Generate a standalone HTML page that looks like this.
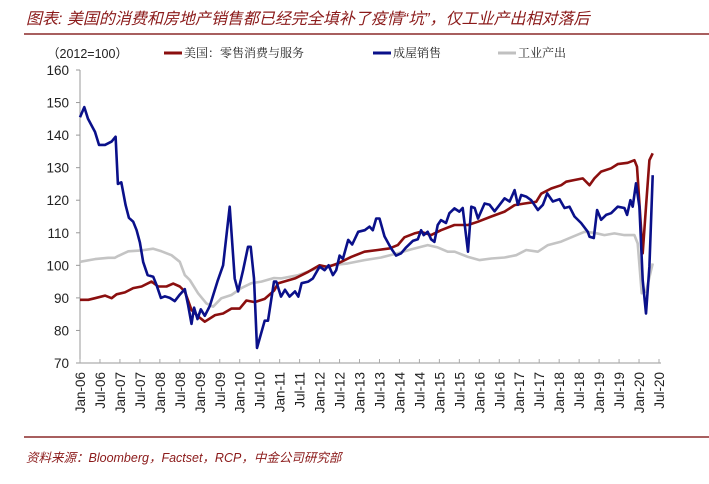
<!DOCTYPE html>
<html><head><meta charset="utf-8"><style>
body{margin:0;background:#fff;width:709px;height:479px;overflow:hidden;font-family:"Liberation Sans","Noto Sans CJK SC",sans-serif}
</style></head><body>
<svg width="709" height="479" xmlns="http://www.w3.org/2000/svg">
<text x="26" y="24" font-size="16" font-style="italic" fill="#8b1a1a" font-family="Liberation Sans, Noto Sans CJK SC, sans-serif">图表: 美国的消费和房地产销售都已经完全填补了疫情“坑”，仅工业产出相对落后</text>
<line x1="24" y1="34" x2="709" y2="34" stroke="#8b2a2a" stroke-width="1.5"/>
<text x="47" y="58" font-size="12.5" fill="#222">（2012=100）</text>
<g font-family="Noto Serif CJK SC, serif" font-size="12" fill="#222">
<line x1="164" y1="53" x2="182" y2="53" stroke="#8b0f0f" stroke-width="3"/>
<text x="184" y="57">美国：零售消费与服务</text>
<line x1="373" y1="53" x2="391" y2="53" stroke="#0a108a" stroke-width="3"/>
<text x="393" y="57">成屋销售</text>
<line x1="498" y1="53" x2="516" y2="53" stroke="#c0c0c0" stroke-width="3"/>
<text x="518" y="57">工业产出</text>
</g>
<g id="axes"></g>
<g id="series"></g>
<line x1="24" y1="437" x2="709" y2="437" stroke="#8b2a2a" stroke-width="1.5"/>
<text x="26" y="462" font-size="12.5" font-style="italic" fill="#8b1a1a">资料来源：Bloomberg，Factset，RCP，中金公司研究部</text>
</svg>
<script>
const yTicks=[70,80,90,100,110,120,130,140,150,160];
const xTickLabels=["Jan-06","Jul-06","Jan-07","Jul-07","Jan-08","Jul-08","Jan-09","Jul-09","Jan-10","Jul-10","Jan-11","Jul-11","Jan-12","Jul-12","Jan-13","Jul-13","Jan-14","Jul-14","Jan-15","Jul-15","Jan-16","Jul-16","Jan-17","Jul-17","Jan-18","Jul-18","Jan-19","Jul-19","Jan-20","Jul-20"];
const housingMonths=[0,1.3,2.4,4.5,5.7,7.5,9.5,10.7,11.4,12.4,13.7,14.7,16,17,18,19,20.3,22,23,24.3,25.5,27,28.5,30,31.5,32.5,33.5,34.3,35.3,36.3,37.5,39,41.3,43,45,46.5,47.5,49,50.5,51.3,52.3,53.2,55.5,56.5,58.3,59,60.4,61.6,63,64.6,65.6,66.6,68.6,70,72,73.5,74.7,76,77,78,79,80.6,81.8,83.6,85.6,87,88,89,90,91.5,93.5,95,96.5,98,100,101.5,102.5,103.3,104.5,105.5,106.5,107.5,108.5,110,111,112.5,114,115,116.6,117.6,118.6,119.6,121.6,123.1,124.6,126.1,127.6,129.1,130.6,131.6,132.6,134.1,135.6,137.6,139.1,140.4,142.1,144.1,145.6,147.1,148.6,150.6,152.6,153.1,154.4,155.4,156.6,158.1,159.6,161.6,163.6,164.4,165.4,166.1,167.1,168.1,169.1,170.1,171.1,172.1];
const housingValues=[145.5,148.6,145,141,137,137,138,139.5,125,125.5,118.5,114.6,113.4,110.8,107,101,97,96.5,94,90,90.5,90,89,91,92.7,87.8,82,87,83.5,86.5,84.5,87.5,95,100,118,96,92,98.5,105.7,105.7,96,74.6,83,83,95,95,90.4,92.5,90.4,92,90.4,94.5,95,96,99.6,98.5,100,97,98.5,103,102,107.8,106.4,110.3,110.8,111.9,110.8,114.4,114.4,108.9,105.2,103,103.7,105.5,107.5,108,110.8,109.3,110.3,108,107.2,112.4,113.9,113,116,117.5,116.5,117.6,104.2,118,117.6,114.4,119,118.6,116.6,118.6,120.6,119.6,123.1,118.6,121.6,121.1,120,117,118.6,122.1,119.6,120.3,117.6,118,115,113,110.3,108.8,108.4,117,114,115.5,116,118,117.6,115.5,120,118,125.2,118,95.5,85.2,99.6,127.7];
const retailMonths=[0,2.5,4.5,7.5,9.5,11,13.5,16,18.5,21.5,23.5,26,28,30,31.5,33.5,35.5,37.5,40.6,43,45.5,48,50,52.5,55.5,58.3,59.6,64.6,68.6,72,74.5,77.5,81.5,85.5,89.5,93,95.5,97.5,100.5,102.5,105.5,108.5,112.5,116.6,119.6,123.6,127.6,130.6,133.6,137.1,138.6,141.6,144.6,146.1,148.6,151.1,153.1,154.6,156.6,159.6,161.6,164.6,166.6,167.4,169.1,170.1,171.1,172.1];
const retailValues=[89.4,89.4,89.9,90.7,89.9,91.1,91.7,93,93.5,95,93.5,93.5,94.4,93.5,92,86.3,84.3,82.7,84.7,85.2,86.7,86.7,89.2,88.7,89.7,92.2,94.5,96,98,100,99.5,100.6,102.6,104.2,104.7,105.2,106.2,108.6,109.8,110.3,109.3,110.8,112.4,112.4,113.4,115,116.5,118.5,119,119.5,122,123.6,124.6,125.7,126.2,126.7,124.6,126.7,128.8,129.8,131.1,131.5,132.3,130.3,103.7,118,132.3,134.4];
const industrialMonths=[0,4.5,8.5,10.5,11.5,14.5,18.5,22,24.5,27.5,30,31.5,33,35.5,38,40,42.5,45.5,48.5,51.5,54.5,58.3,60.5,65.6,70.5,75.5,80.5,85.5,90.5,95.5,99.5,104.5,107.5,110.5,112.6,116.6,120.1,123.6,127.6,131.1,134.1,137.6,140.6,144.6,148.1,151.6,154.6,157.6,160.6,163.6,166.6,167.6,168.8,170.1,172.1];
const industrialValues=[101.1,101.9,102.3,102.3,102.9,104.3,104.6,105.1,104.3,103.1,101.1,97,95.5,91.4,88.3,87.3,89.9,90.9,93,94.5,95,96.1,96,97,98.8,100,100.6,101.6,102.4,103.7,104.9,106.2,105.5,104.2,104.2,102.6,101.6,102.1,102.4,103.1,104.7,104.2,106.2,107.3,108.8,110.3,110,109.3,109.8,109.3,109.3,106.7,91.4,91.9,100.6];

const NS="http://www.w3.org/2000/svg";
const X0=80,X1=659,Y0=363,Y1=70;
const xScale=m=>X0+m*(X1-X0)/174;
const yScale=v=>Y0-(v-70)*(Y0-Y1)/90;
const axes=document.getElementById('axes'),series=document.getElementById('series');
function mk(tag,attrs,parent){const e=document.createElementNS(NS,tag);for(const k in attrs)e.setAttribute(k,attrs[k]);parent.appendChild(e);return e;}
let ax=mk('line',{x1:X0,y1:Y1,x2:X0,y2:Y0,stroke:'#999','stroke-width':1},axes);


let bx=mk('line',{x1:X0,y1:Y0,x2:X1+2,y2:Y0,stroke:'#bbb','stroke-width':1.5},axes);


yTicks.forEach(v=>{
  const y=yScale(v);
  const t=mk('line',{x1:X0-4,y1:y,x2:X0,y2:y,stroke:'#999'},axes);
  
  
  const l=mk('text',{x:X0-11,y:y+5,'text-anchor':'end','font-size':13.5,fill:'#222'},axes);
  l.textContent=v;
  
  
});
xTickLabels.forEach((s,i)=>{
  const x=xScale(i*6);
  const t=mk('line',{x1:x,y1:Y0-4,x2:x,y2:Y0,stroke:'#aaa'},axes);
  
  
  const l=mk('text',{x:0,y:0,'text-anchor':'end','font-size':13.5,fill:'#222',transform:`translate(${x+5},${Y0+9}) rotate(-90)`},axes);
  l.textContent=s;
  
  
});
function line(ms,vs,color,name){
  const d=ms.map((m,i)=>(i?'L':'M')+xScale(m).toFixed(1)+','+yScale(vs[i]).toFixed(1)).join('');
  const p=mk('path',{d:d,fill:'none',stroke:color,'stroke-width':2.6,'stroke-linejoin':'round'},series);
  
  
}
line(industrialMonths,industrialValues,'#c4c4c4','industrial-output-line');
line(retailMonths,retailValues,'#8b0f0f','retail-sales-line');
line(housingMonths,housingValues,'#0a108a','existing-home-sales-line');
</script>
</body></html>
